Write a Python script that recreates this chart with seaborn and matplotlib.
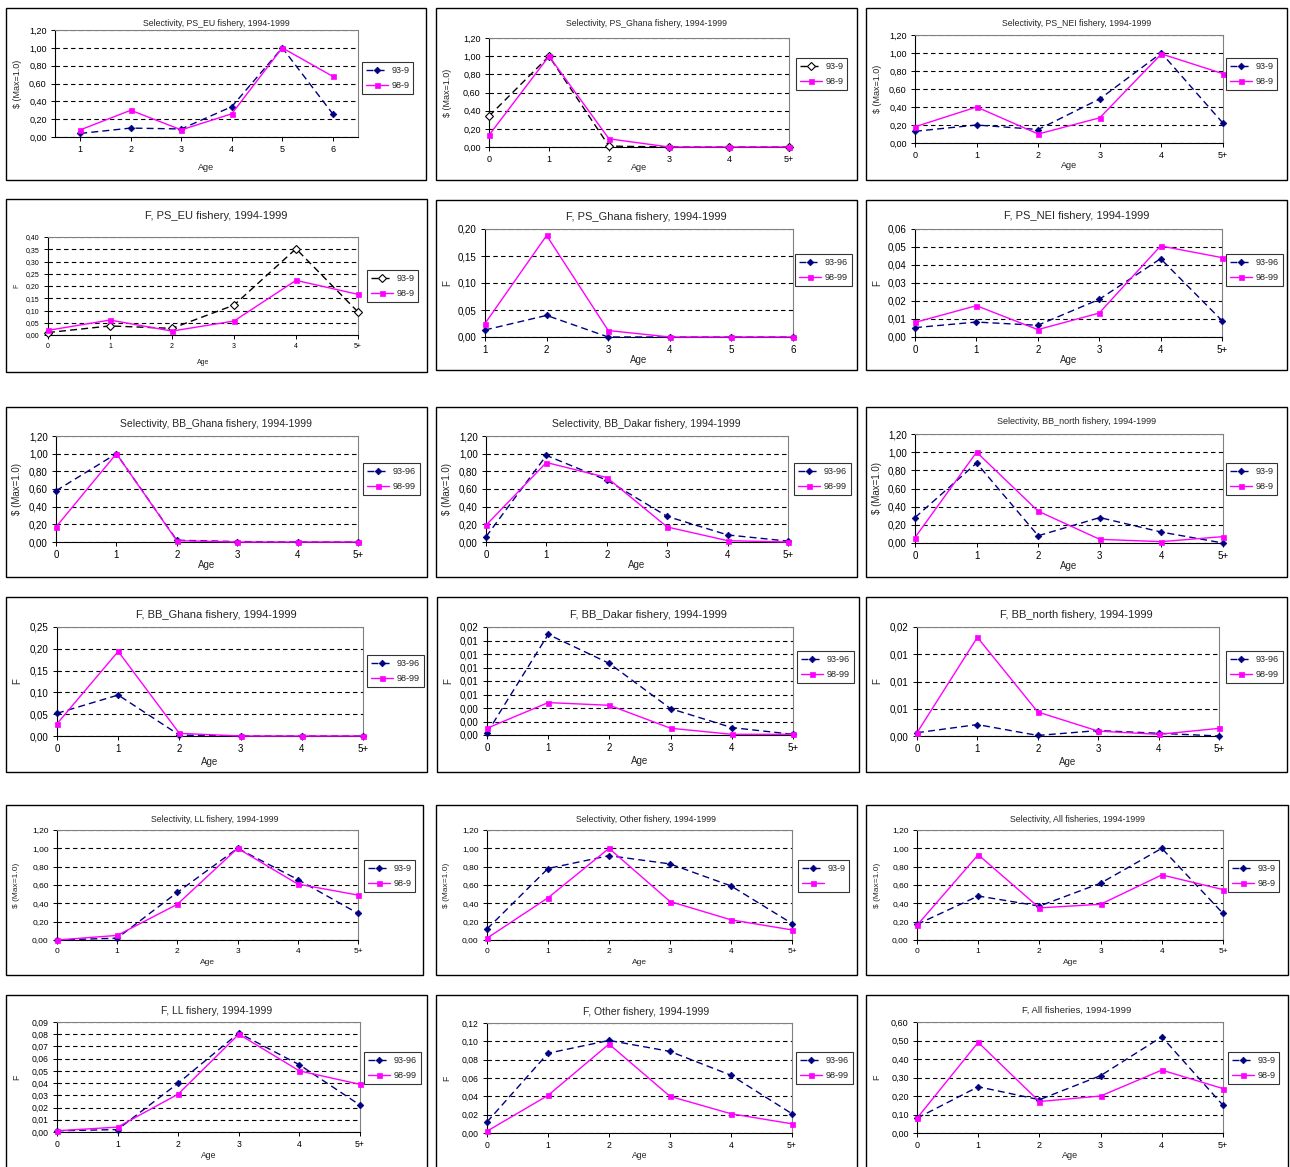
import numpy as np
import matplotlib
matplotlib.use("Agg")
import matplotlib.pyplot as plt
from matplotlib.patches import Rectangle
import seaborn as sns

# ---------------- data ----------------
ages_0_5 = ["0", "1", "2", "3", "4", "5+"]
ages_1_6 = ["1", "2", "3", "4", "5", "6"]

# Row 1 - selectivity, purse seine
sel_ps_eu_a = [0.04, 0.10, 0.09, 0.34, 1.00, 0.26]
sel_ps_eu_b = [0.08, 0.30, 0.08, 0.26, 1.00, 0.68]
sel_ps_ghana_a = [0.34, 1.00, 0.01, 0.00, 0.00, 0.00]
sel_ps_ghana_b = [0.13, 1.00, 0.09, 0.00, 0.00, 0.00]
sel_ps_nei_a = [0.13, 0.20, 0.15, 0.49, 1.00, 0.22]
sel_ps_nei_b = [0.18, 0.40, 0.10, 0.28, 0.99, 0.77]
# Row 2 - F, purse seine
f_ps_eu_a = [0.010, 0.037, 0.027, 0.122, 0.352, 0.094]
f_ps_eu_b = [0.019, 0.061, 0.016, 0.057, 0.223, 0.166]
f_ps_ghana_a = [0.013, 0.040, 0.000, 0.000, 0.000, 0.000]
f_ps_ghana_b = [0.025, 0.188, 0.012, 0.000, 0.000, 0.000]
f_ps_nei_a = [0.0052, 0.0083, 0.0065, 0.0209, 0.0435, 0.0091]
f_ps_nei_b = [0.0081, 0.0174, 0.0041, 0.0133, 0.0506, 0.0441]
# Row 3 - selectivity, baitboat
sel_bb_ghana_a = [0.58, 1.00, 0.02, 0.005, 0.00, 0.00]
sel_bb_ghana_b = [0.17, 1.00, 0.015, 0.00, 0.00, 0.00]
sel_bb_dakar_a = [0.06, 0.98, 0.70, 0.29, 0.08, 0.01]
sel_bb_dakar_b = [0.19, 0.90, 0.73, 0.17, 0.015, 0.00]
sel_bb_north_a = [0.28, 0.88, 0.08, 0.28, 0.12, 0.00]
sel_bb_north_b = [0.06, 1.00, 0.35, 0.04, 0.015, 0.07]
# Row 4 - F, baitboat
f_bb_ghana_a = [0.052, 0.094, 0.002, 0.000, 0.000, 0.000]
f_bb_ghana_b = [0.028, 0.194, 0.006, 0.000, 0.000, 0.000]
f_bb_dakar_a = [0.0003, 0.0149, 0.0106, 0.0039, 0.0011, 0.0001]
f_bb_dakar_b = [0.0010, 0.0048, 0.0044, 0.0010, 0.0001, 0.0001]
f_bb_north_a = [0.0006, 0.0021, 0.0001, 0.0010, 0.0005, 0.0000]
f_bb_north_b = [0.0006, 0.0181, 0.0044, 0.0009, 0.0003, 0.0014]
# Row 5 - selectivity, LL / other / all
sel_ll_a = [0.00, 0.02, 0.52, 1.00, 0.66, 0.29]
sel_ll_b = [0.00, 0.05, 0.39, 1.00, 0.61, 0.49]
sel_other_a = [0.12, 0.78, 0.92, 0.83, 0.59, 0.18]
sel_other_b = [0.02, 0.46, 1.00, 0.42, 0.22, 0.11]
sel_all_a = [0.17, 0.48, 0.37, 0.62, 1.00, 0.29]
sel_all_b = [0.16, 0.93, 0.35, 0.39, 0.71, 0.55]
# Row 6 - F, LL / other / all
f_ll_a = [0.001, 0.002, 0.040, 0.081, 0.055, 0.022]
f_ll_b = [0.001, 0.004, 0.031, 0.080, 0.050, 0.039]
f_other_a = [0.012, 0.087, 0.101, 0.089, 0.063, 0.021]
f_other_b = [0.002, 0.041, 0.097, 0.040, 0.021, 0.010]
f_all_a = [0.08, 0.25, 0.18, 0.31, 0.52, 0.15]
f_all_b = [0.08, 0.49, 0.17, 0.20, 0.34, 0.24]

titles = [
    "Selectivity, PS_EU fishery, 1994-1999", "Selectivity, PS_Ghana fishery, 1994-1999",
    "Selectivity, PS_NEI fishery, 1994-1999",
    "F, PS_EU fishery, 1994-1999", "F, PS_Ghana fishery, 1994-1999", "F, PS_NEI fishery, 1994-1999",
    "Selectivity, BB_Ghana fishery, 1994-1999", "Selectivity, BB_Dakar fishery, 1994-1999",
    "Selectivity, BB_north fishery, 1994-1999",
    "F, BB_Ghana fishery, 1994-1999", "F, BB_Dakar fishery, 1994-1999", "F, BB_north fishery, 1994-1999",
    "Selectivity, LL fishery, 1994-1999", "Selectivity, Other fishery, 1994-1999",
    "Selectivity, All fisheries, 1994-1999",
    "F, LL fishery, 1994-1999", "F, Other fishery, 1994-1999", "F, All fisheries, 1994-1999",
]
series_a = [sel_ps_eu_a, sel_ps_ghana_a, sel_ps_nei_a, f_ps_eu_a, f_ps_ghana_a, f_ps_nei_a,
            sel_bb_ghana_a, sel_bb_dakar_a, sel_bb_north_a, f_bb_ghana_a, f_bb_dakar_a, f_bb_north_a,
            sel_ll_a, sel_other_a, sel_all_a, f_ll_a, f_other_a, f_all_a]
series_b = [sel_ps_eu_b, sel_ps_ghana_b, sel_ps_nei_b, f_ps_eu_b, f_ps_ghana_b, f_ps_nei_b,
            sel_bb_ghana_b, sel_bb_dakar_b, sel_bb_north_b, f_bb_ghana_b, f_bb_dakar_b, f_bb_north_b,
            sel_ll_b, sel_other_b, sel_all_b, f_ll_b, f_other_b, f_all_b]
age_labels = [ages_1_6, ages_0_5, ages_0_5, ages_0_5, ages_1_6, ages_0_5] + [ages_0_5] * 12
legend_a = ["93-9", "93-9", "93-9", "93-9", "93-96", "93-96", "93-96", "93-96", "93-9",
            "93-96", "93-96", "93-96", "93-9", "93-9", "93-9", "93-96", "93-96", "93-9"]
legend_b = ["98-9", "98-9", "98-9", "98-9", "98-99", "98-99", "98-99", "98-99", "98-9",
            "98-99", "98-99", "98-99", "98-9", "", "98-9", "98-99", "98-99", "98-9"]
y_max = [1.2, 1.2, 1.2, 0.40, 0.20, 0.06, 1.2, 1.2, 1.2, 0.25, 0.016, 0.020,
         1.2, 1.2, 1.2, 0.09, 0.12, 0.60]
y_step = [0.2, 0.2, 0.2, 0.05, 0.05, 0.01, 0.2, 0.2, 0.2, 0.05, 0.002, 0.005,
          0.2, 0.2, 0.2, 0.01, 0.02, 0.10]
y_label_kind = ["S", "S", "S", "F", "F", "F", "S", "S", "S", "F", "F", "F", "S", "S", "S", "F", "F", "F"]

# ---------------- layout (pixels, top-left origin) ----------------
W, H = 1290, 1167
boxes = [(6, 8, 426, 180), (436, 8, 857, 180), (866, 8, 1287, 180),
         (6, 199, 427, 372), (436, 200, 857, 370), (866, 200, 1287, 370),
         (6, 407, 427, 577), (436, 407, 857, 577), (866, 407, 1287, 577),
         (6, 597, 427, 772), (437, 597, 859, 772), (866, 597, 1287, 772),
         (6, 805, 423, 975), (436, 805, 857, 975), (866, 805, 1288, 975),
         (6, 995, 427, 1172), (436, 995, 857, 1172), (866, 995, 1288, 1172)]
plots = [(55, 30, 358, 137), (489, 38, 789, 147), (915, 35, 1223, 143),
         (48, 237, 358, 335), (485, 229, 793, 337), (915, 229, 1222, 337),
         (56, 436, 358, 542), (486, 436, 788, 542), (915, 434, 1223, 543),
         (57, 627, 363, 736), (487, 627, 793, 735), (917, 627, 1219, 736),
         (57, 830, 358, 940), (487, 830, 792, 940), (917, 830, 1223, 940),
         (57, 1022, 360, 1132), (487, 1023, 792, 1133), (917, 1022, 1223, 1133)]
legends = [(362, 62), (796, 58), (1226, 58),
           (367, 270), (795, 254), (1226, 254),
           (363, 463), (794, 463), (1226, 463),
           (367, 655), (797, 651), (1226, 651),
           (364, 860), (798, 860), (1228, 860),
           (364, 1052), (796, 1052), (1228, 1052)]
title_y = [23, 24, 24, 216, 217, 216, 424, 424, 422, 615, 615, 615, 819, 820, 819, 1011, 1012, 1010]
title_fs = [6.3, 6.3, 6.3, 8, 8, 8, 7.5, 7.5, 6.5, 8, 8, 8, 6.3, 6.3, 6.3, 7.5, 7.5, 6.8]
tick_fs = [6.5, 6.5, 6.5, 5.0, 7, 7, 7, 7, 7, 7, 7, 7, 6, 6, 6, 6.2, 6.2, 6.5]
age_dy = [30, 21, 22, 27, 23, 23, 23, 23, 23, 26, 26, 26, 23, 23, 23, 23, 23, 23]
open_marker = [False, True, False, True] + [False] * 14
padded_x = [True] + [False] * 17

sns.set_style("white")
plt.rcParams["font.family"] = ["Liberation Sans", "DejaVu Sans"]

fig = plt.figure(figsize=(W / 100, H / 100), dpi=100)
fig.patch.set_facecolor("white")


def fx(x):
    return x / W


def fy(y):
    return 1 - y / H


NAVY = "#000080"
MAGENTA = "#FF00FF"

for i in range(18):
    bx0, by0, bx1, by1 = boxes[i]
    fig.add_artist(Rectangle((fx(bx0), fy(by1)), fx(bx1 - bx0), (by1 - by0) / H,
                             transform=fig.transFigure, fill=False, edgecolor="black", lw=1.0))
    px0, py0, px1, py1 = plots[i]
    ax = fig.add_axes([fx(px0), fy(py1), fx(px1 - px0), (py1 - py0) / H])
    xs = np.arange(6)

    if open_marker[i]:
        kw_a = dict(color="black", marker="D", markersize=4.2, markerfacecolor="white",
                    markeredgecolor="black", markeredgewidth=0.8)
    else:
        kw_a = dict(color=NAVY, marker="D", markersize=3.4, markerfacecolor=NAVY,
                    markeredgecolor=NAVY, markeredgewidth=0.5)
    sns.lineplot(x=xs, y=series_a[i], ax=ax, linestyle=(0, (5, 3)), lw=1.0, legend=False,
                 sort=False, estimator=None, clip_on=False, zorder=3, **kw_a)
    sns.lineplot(x=xs, y=series_b[i], ax=ax, color=MAGENTA, linestyle="-", lw=1.0, marker="s",
                 markersize=3.6, markerfacecolor=MAGENTA, markeredgecolor=MAGENTA,
                 markeredgewidth=0.5, legend=False, sort=False, estimator=None, clip_on=False,
                 zorder=4)

    nt = int(round(y_max[i] / y_step[i]))
    ticks = np.linspace(0, y_max[i], nt + 1)
    ax.set_ylim(0, y_max[i])
    ax.set_yticks(ticks)
    ax.set_yticklabels([f"{t:.2f}".replace(".", ",") for t in ticks], fontsize=tick_fs[i])
    if padded_x[i]:
        ax.set_xlim(-0.5, 5.5)
    else:
        ax.set_xlim(0, 5)
    ax.set_xticks(xs)
    ax.set_xticklabels(age_labels[i], fontsize=tick_fs[i])
    ax.set_xlabel("")
    ax.set_ylabel("")
    ax.tick_params(axis="both", direction="out", length=3, width=0.7, pad=3,
                   left=True, bottom=True, colors="black")
    ax.yaxis.grid(True, color="black", linestyle=(0, (4, 3)), lw=0.8)
    ax.xaxis.grid(False)
    ax.set_axisbelow(True)
    for s in ["top", "right"]:
        ax.spines[s].set_color("#808080")
        ax.spines[s].set_linewidth(0.8)
    for s in ["left", "bottom"]:
        ax.spines[s].set_color("black")
        ax.spines[s].set_linewidth(0.8)

    handles = ax.get_lines()[:2]
    lx, ly = legends[i]
    leg = ax.legend(handles, [legend_a[i], legend_b[i]], loc="upper left",
                    bbox_to_anchor=(fx(lx), fy(ly)), bbox_transform=fig.transFigure,
                    frameon=True, fancybox=False, edgecolor="black", fontsize=6.6,
                    handlelength=2.4, borderpad=0.45, labelspacing=0.65,
                    handletextpad=0.35, borderaxespad=0)
    leg.get_frame().set_linewidth(0.8)

    fig.text(fx((bx0 + bx1) / 2), fy(title_y[i]), titles[i], ha="center", va="center",
             fontsize=title_fs[i])
    fig.text(fx((px0 + px1) / 2), fy(py1 + age_dy[i]), "Age", ha="center", va="center",
             fontsize=tick_fs[i])
    ylab = "$ (Max=1.0)" if y_label_kind[i] == "S" else "F"
    fig.text(fx(bx0 + 11), fy((py0 + py1) / 2), ylab, ha="center", va="center",
             rotation=90, fontsize=tick_fs[i])

fig.savefig("out.png", dpi=100, facecolor="white")
